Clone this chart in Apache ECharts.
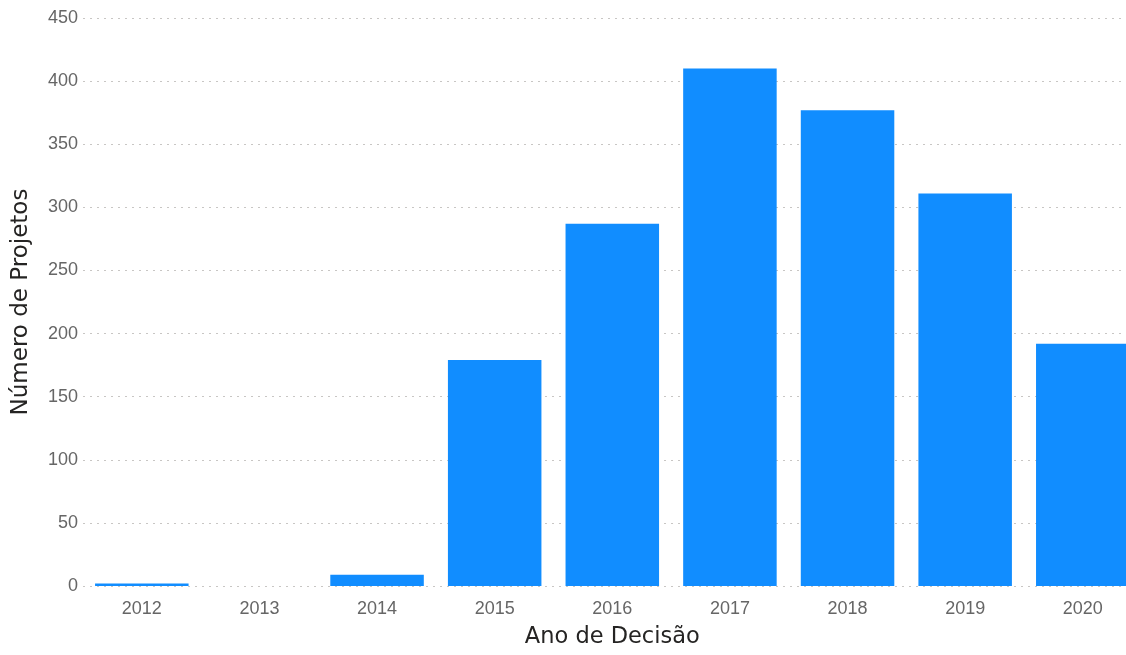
<!DOCTYPE html>
<html>
<head>
<meta charset="utf-8">
<script src="https://cdn.jsdelivr.net/npm/echarts@6/dist/echarts.min.js"></script>
<style>html,body{margin:0;padding:0;background:#fff;}#c{width:1126px;height:655px;}</style>
</head>
<body>
<div id="c"></div>
<script>
const categories = ['2012','2013','2014','2015','2016','2017','2018','2019','2020'];
const values = [2, 0, 9, 179, 287, 410, 377, 311, 192];
const yTicks = [0, 50, 100, 150, 200, 250, 300, 350, 400, 450];

const chart = echarts.init(document.getElementById('c'), null, {renderer: 'canvas'});
chart.setOption({
  animation: false,
  grid: {left: 83, width: 1058.6, top: 18, height: 568, outerBoundsMode: 'none', containLabel: false},
  xAxis: {
    type: 'category',
    data: categories,
    name: 'Ano de Decisão',
    nameLocation: 'middle',
    nameGap: 40,
    nameTextStyle: {fontFamily: 'DejaVu Sans', fontSize: 22.5, color: '#252423'},
    axisLine: {show: false},
    axisTick: {show: false},
    axisLabel: {fontFamily: 'Liberation Sans', fontSize: 18, color: '#666666', margin: 14}
  },
  yAxis: {
    type: 'value',
    min: yTicks[0],
    max: yTicks[yTicks.length - 1],
    interval: 50,
    name: 'Número de Projetos',
    nameLocation: 'middle',
    nameGap: 50,
    nameTextStyle: {fontFamily: 'DejaVu Sans', fontSize: 23, color: '#252423'},
    axisLine: {show: false},
    axisTick: {show: false},
    axisLabel: {fontFamily: 'Liberation Sans', fontSize: 18, color: '#666666', margin: 5},
    splitLine: {lineStyle: {color: '#C8C6C4', type: [2, 5], width: 1}}
  },
  series: [{
    type: 'bar',
    data: values,
    barCategoryGap: '20.5%',
    itemStyle: {color: '#118DFF'}
  }]
});
</script>
</body>
</html>
